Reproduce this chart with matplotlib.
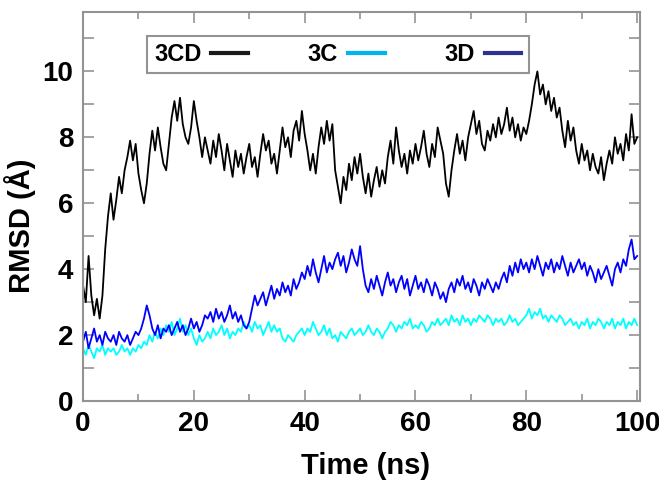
import numpy as np
import matplotlib
matplotlib.use('Agg')
import matplotlib.pyplot as plt
from matplotlib.lines import Line2D
from matplotlib.ticker import MultipleLocator

# time axis, one sample every 0.5 ns
time_ns = np.arange(0, 100.5, 0.5)

rmsd_3cd = [
	3.5, 3.0, 4.4, 3.2, 2.6, 3.1, 2.5, 3.2, 4.6, 5.6,
	6.3, 5.5, 6.1, 6.8, 6.3, 7.0, 7.4, 7.9, 7.3, 7.8,
	6.9, 6.4, 6.0, 6.6, 7.5, 8.2, 7.6, 8.3, 7.7, 7.2,
	7.0, 7.8, 8.6, 9.1, 8.5, 9.2, 8.4, 8.0, 7.8, 8.3,
	9.1, 8.5, 8.0, 7.4, 8.0, 7.6, 7.2, 7.9, 7.4, 8.1,
	7.6, 7.0, 7.8, 7.3, 6.8, 7.6, 7.1, 7.5, 6.9, 7.4,
	7.8, 7.1, 7.4, 6.8, 7.5, 8.1, 7.6, 7.9, 7.2, 7.5,
	6.9, 7.6, 8.3, 7.7, 8.0, 7.4, 8.2, 8.5, 7.9, 8.8,
	8.1, 7.6, 7.0, 7.5, 6.9, 7.7, 8.3, 7.8, 8.5, 7.9,
	8.4, 7.0, 6.5, 6.0, 6.8, 6.4, 7.2, 6.7, 7.4, 6.9,
	7.5, 6.8, 6.3, 6.9, 6.2, 6.7, 7.1, 6.5, 7.0, 6.6,
	7.4, 7.9, 7.2, 8.3, 7.6, 7.1, 7.5, 6.9, 7.6, 7.2,
	7.8, 7.3, 7.7, 8.2, 7.5, 7.1, 7.8, 7.4, 8.3, 7.9,
	7.5, 6.6, 6.2, 7.0, 7.6, 8.1, 7.5, 7.9, 7.3, 8.0,
	8.4, 8.8, 8.1, 8.5, 7.8, 7.6, 8.2, 7.9, 8.4, 8.0,
	8.6, 8.1, 8.4, 8.9, 8.2, 8.6, 8.0, 8.4, 7.9, 8.3,
	8.1, 8.5, 9.0, 9.6, 10.0, 9.3, 9.6, 9.0, 9.4, 8.8,
	9.2, 8.6, 8.9, 8.2, 7.7, 8.5, 7.9, 8.3, 7.6, 7.2,
	7.8, 7.3, 7.6, 7.0, 7.5, 7.1, 6.9, 7.4, 6.7, 7.2,
	7.6, 7.2, 8.0, 7.5, 7.8, 7.3, 8.1, 7.6, 8.7, 7.8, 8.0,
]

rmsd_3c = [
	1.6, 1.4, 1.7, 1.5, 1.3, 1.6, 1.5, 1.7, 1.4, 1.6,
	1.5, 1.6, 1.4, 1.5, 1.7, 1.5, 1.6, 1.4, 1.6, 1.5,
	1.7, 1.6, 1.8, 1.7, 2.0, 1.8, 2.1, 1.9, 2.2, 2.0,
	2.3, 2.1, 2.4, 2.0, 2.2, 2.5, 2.1, 2.3, 2.0, 2.2,
	1.9, 1.7, 2.0, 1.8, 1.9, 2.1, 1.9, 2.2, 2.0, 2.1,
	2.3, 2.0, 2.2, 1.9, 2.1, 2.0, 2.2, 2.1, 2.4, 2.2,
	2.3, 2.1, 2.4, 2.2, 2.3, 2.0, 2.2, 2.4, 2.1, 2.3,
	2.1, 2.2, 1.9, 1.8, 2.0, 1.9, 1.8, 2.0, 2.1, 2.2,
	2.0, 2.2, 2.1, 2.4, 2.2, 2.0, 2.1, 2.3, 2.0, 2.2,
	1.9, 2.0, 1.8, 2.1, 2.0, 1.9, 2.1, 2.2, 2.0, 2.1,
	2.2, 2.0, 2.1, 2.3, 2.1, 2.0, 2.2, 2.1, 1.9, 2.1,
	2.2, 2.4, 2.3, 2.1, 2.3, 2.2, 2.4, 2.3, 2.5, 2.2,
	2.3, 2.2, 2.4, 2.3, 2.1, 2.2, 2.4, 2.3, 2.5, 2.3,
	2.4, 2.5, 2.3, 2.6, 2.4, 2.5, 2.3, 2.6, 2.4, 2.5,
	2.3, 2.5, 2.4, 2.6, 2.5, 2.4, 2.6, 2.5, 2.3, 2.5,
	2.4, 2.5, 2.3, 2.4, 2.6, 2.4, 2.5, 2.3, 2.4, 2.5,
	2.6, 2.8, 2.5, 2.7, 2.6, 2.8, 2.5, 2.6, 2.4, 2.6,
	2.5, 2.4, 2.6, 2.5, 2.3, 2.4, 2.5, 2.3, 2.4, 2.2,
	2.4, 2.3, 2.5, 2.2, 2.4, 2.3, 2.5, 2.4, 2.2, 2.4,
	2.3, 2.5, 2.2, 2.4, 2.3, 2.5, 2.2, 2.4, 2.3, 2.5, 2.3,
]

rmsd_3d = [
	1.8, 2.1, 1.6, 1.9, 2.2, 1.8, 2.0, 1.7, 2.1, 1.9,
	1.8, 2.0, 1.7, 2.1, 1.9, 1.8, 2.0, 1.7, 1.9, 2.1,
	2.0, 2.2, 2.5, 2.9, 2.6, 2.2, 2.0, 2.3, 1.9, 2.2,
	2.1, 2.3, 2.0, 2.2, 2.4, 2.1, 2.3, 2.0, 2.2, 2.5,
	2.2, 2.4, 2.1, 2.3, 2.6, 2.5, 2.7, 2.4, 2.8, 2.5,
	2.7, 2.4, 2.6, 2.9, 2.5, 2.7, 2.4, 2.6, 2.3, 2.2,
	2.4, 2.8, 3.2, 2.9, 3.1, 3.3, 2.9, 3.2, 3.5, 3.1,
	3.4, 3.2, 3.6, 3.3, 3.5, 3.2, 3.7, 3.4, 3.6, 3.9,
	3.7, 4.1, 3.8, 4.3, 3.9, 3.6, 4.0, 4.4, 3.9, 4.2,
	4.0, 4.3, 4.5, 4.1, 4.4, 3.9, 4.2, 4.6, 4.3, 4.1,
	4.7, 4.0, 3.5, 3.3, 3.7, 3.4, 3.8, 3.5, 3.2, 3.6,
	3.9, 3.5, 3.7, 3.3, 3.6, 3.8, 3.4, 3.7, 3.2, 3.5,
	3.8, 3.4, 3.6, 3.3, 3.7, 3.5, 3.2, 3.6, 3.4, 3.1,
	3.3, 3.0, 3.4, 3.6, 3.3, 3.7, 3.5, 3.8, 3.4, 3.6,
	3.3, 3.7, 3.5, 3.2, 3.6, 3.4, 3.7, 3.5, 3.3, 3.6,
	3.4, 3.7, 3.9, 3.6, 4.1, 3.8, 4.2, 3.9, 4.3, 4.0,
	4.2, 3.9, 4.3, 4.0, 4.4, 4.1, 3.8, 4.2, 4.0, 4.3,
	3.9, 4.2, 4.0, 4.4, 4.1, 3.8, 4.2, 3.9, 4.1, 4.3,
	4.0, 4.2, 3.8, 4.1, 3.9, 3.6, 4.0, 3.7, 3.9, 4.1,
	3.8, 3.5, 4.0, 4.2, 3.9, 4.3, 4.1, 4.6, 4.9, 4.3, 4.4,
]

labels = ['3CD', '3C', '3D']
line_colors = ['#000000', '#00FFFF', '#0000FF']
legend_colors = ['#1a1a1a', '#00B4F0', '#2E3192']

plt.rcParams['font.family'] = ['Liberation Sans', 'DejaVu Sans']
plt.rcParams['font.weight'] = 'bold'

fig = plt.figure(figsize=(6.59, 4.82), dpi=100)
ax = fig.add_axes([0.126, 0.168, 0.845, 0.807])

ax.plot(time_ns, rmsd_3cd, color=line_colors[0], lw=1.3)
ax.plot(time_ns, rmsd_3c, color=line_colors[1], lw=1.3)
ax.plot(time_ns, rmsd_3d, color=line_colors[2], lw=1.3)

ax.set_xlim(0, 100.5)
ax.set_ylim(0, 11.8)
ax.xaxis.set_major_locator(MultipleLocator(20))
ax.xaxis.set_minor_locator(MultipleLocator(10))
ax.yaxis.set_major_locator(MultipleLocator(2))
ax.yaxis.set_minor_locator(MultipleLocator(1))

spine_grey = '#939393'
for s in ax.spines.values():
	s.set_color(spine_grey)
	s.set_linewidth(1.5)
ax.tick_params(which='both', direction='in', top=True, right=True,
	color=spine_grey, width=1.2, labelsize=20)
ax.tick_params(axis='x', which='major', length=8, pad=7)
ax.tick_params(axis='x', which='minor', length=5)
ax.tick_params(axis='y', which='both', length=8, pad=7)

ax.set_xlabel('Time (ns)', fontsize=21, fontweight='bold')
ax.set_ylabel('RMSD (Å)', fontsize=21, fontweight='bold')
ax.xaxis.set_label_coords(0.508, -0.132)
ax.yaxis.set_label_coords(-0.085, 0.45)

handles = [Line2D([], [], color=c, lw=3) for c in legend_colors]
leg = ax.legend(handles, labels, ncol=3, markerfirst=False,
	loc='center', bbox_to_anchor=(0.115, 0.835, 0.685, 0.111), mode='expand',
	fontsize=17, handlelength=1.55, handletextpad=0.42, columnspacing=1.5,
	borderpad=0.3, fancybox=False, framealpha=1, edgecolor=spine_grey,
	borderaxespad=0)
leg.get_frame().set_linewidth(1.5)
for txt in leg.get_texts():
	txt.set_fontweight('bold')

fig.savefig('out.png', dpi=100)
